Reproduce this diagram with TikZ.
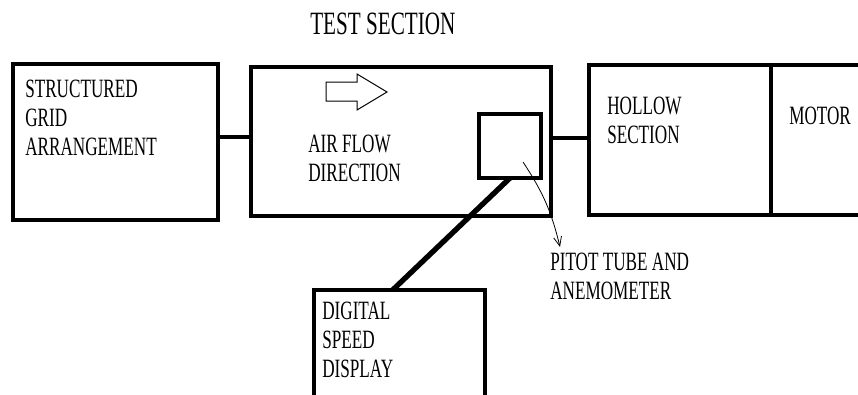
\documentclass[tikz,border=0pt]{standalone}
\usepackage{fontspec}
\setmainfont{Liberation Serif}[FakeStretch=0.65]
\usetikzlibrary{arrows.meta,positioning,calc}
\newdimen\pix
\pix=0.75pt

\tikzset{
  blockbox/.style={draw, line width=3pt, inner sep=0pt, outer sep=0pt},
  wire/.style={line width=3pt},
  lbl/.style={anchor=north west, inner sep=0pt, align=left, font=\fontsize{19.8}{21.75}\selectfont},
}

\begin{document}
\begin{tikzpicture}[x=0.75pt, y=-0.75pt]
  \clip (0,0) rectangle (858,394);

  % blocks
  \node[blockbox, minimum width=205\pix, minimum height=156\pix] (grid) at (115.5,142) {};
  \node[blockbox, minimum width=300\pix, minimum height=149\pix] (test) at (401,141.5) {};
  \node[blockbox, minimum width=62\pix, minimum height=64\pix] (probe) at (510,146) {};
  \node[blockbox, minimum width=182\pix, minimum height=150\pix] (hollow) at (680,140) {};
  \node[blockbox, minimum width=100\pix, minimum height=150\pix, anchor=west] (motor) at (hollow.east) {};
  \node[blockbox, minimum width=171\pix, minimum height=110\pix] (display) at (399.5,345) {};

  % labels
  \node[lbl, font=\fontsize{24.4}{26}\selectfont] (title) at (310,13) {TEST SECTION};
  \node[lbl] (gridtxt) at (25,80) {STRUCTURED\\GRID\\ARRANGEMENT};
  \node[lbl] (flowtxt) at (308,135) {AIR FLOW\\DIRECTION};
  \node[lbl] (hollowtxt) at (607,97) {HOLLOW\\SECTION};
  \node[lbl] (motortxt) at (789,107) {MOTOR};
  \node[lbl] (pitot) at (550,253) {PITOT TUBE AND\\ANEMOMETER};
  \node[lbl] (disptxt) at (322,302) {DIGITAL\\SPEED\\DISPLAY};

  % flow arrow
  \draw[line width=0.75pt] (326,82) -- (357,82) -- (357,74) -- (387,92) -- (357,110) -- (357,101) -- (326,101) -- cycle;

  % connectors
  \draw[wire] ([yshift=3.75pt]grid.east) -- ([yshift=3.75pt]grid.east -| test.west);
  \draw[wire] ([yshift=2.6pt]test.east) -- ([yshift=2.6pt]test.east -| hollow.west);
  \draw[line width=4pt] (probe.south) -- ($(display.north west)!0.46!(display.north east)$);
  \coordinate (probetip) at (523,162);
  \draw[line width=0.6pt, -{Straight Barb[length=7pt,width=6pt]}] (probetip) to[bend left=10] ($(pitot.north west)+(10,-6)$);
\end{tikzpicture}
\end{document}
